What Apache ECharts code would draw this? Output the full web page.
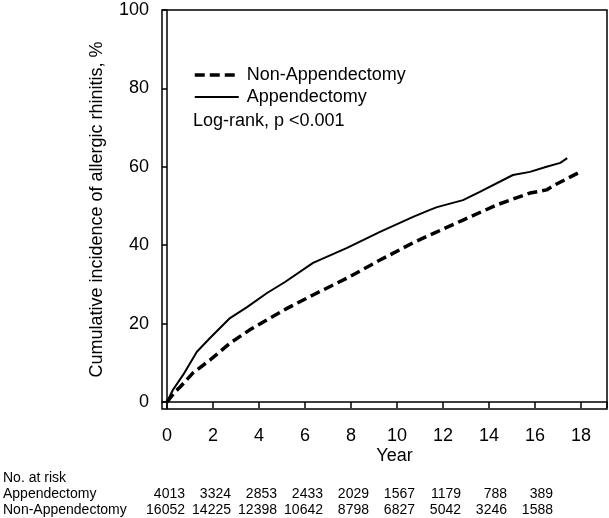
<!DOCTYPE html>
<html>
<head>
<meta charset="utf-8">
<script src="https://cdn.jsdelivr.net/npm/echarts/dist/echarts.min.js"></script>
<style>
  html, body { margin: 0; padding: 0; background: #fff; }
  #chart { width: 609px; height: 518px; }
</style>
</head>
<body>
<div id="chart"></div>
<script>
// curve readings (year, cumulative %)
const apptYears = [0, 0.26, 0.7, 1.3, 1.87, 2.74, 3.48, 4.35, 5.13, 6.35, 7.83, 9.26, 10.7, 11.43, 11.74, 12.87, 13.6, 15.04, 15.78, 16.5, 17.1, 17.4];
const apptValues = [0, 3.1, 6.9, 12.8, 16.3, 21.4, 24.2, 27.8, 30.6, 35.5, 39.3, 43.4, 47.2, 49.0, 49.7, 51.5, 53.6, 57.9, 58.7, 60.0, 61.0, 62.2];
const nonYears = [0, 0.35, 0.57, 1.13, 1.87, 2.74, 3.6, 4.48, 5.26, 6.35, 7.83, 9.26, 10.7, 11.43, 11.74, 12.87, 14.35, 15.78, 16.5, 16.87, 17.87];
const nonValues = [0, 2.6, 3.8, 7.4, 10.7, 15.0, 18.4, 21.4, 24.0, 27.3, 31.6, 36.2, 40.6, 42.6, 43.4, 46.4, 50.3, 53.3, 54.1, 55.4, 58.4];

const xTicks = [0, 2, 4, 6, 8, 10, 12, 14, 16, 18];
const yTicks = [0, 20, 40, 60, 80, 100];

// number at risk table
const riskYears = [0, 2, 4, 6, 8, 10, 12, 14, 16];
const riskAppt = [4013, 3324, 2853, 2433, 2029, 1567, 1179, 788, 389];
const riskNon = [16052, 14225, 12398, 10642, 8798, 6827, 5042, 3246, 1588];

const zip = (xs, ys) => xs.map((x, i) => [x, ys[i]]);

const font = 'Liberation Sans, Arial, sans-serif';
const black = '#000';
const xMin = -0.217;
const xMax = 19.13;

const myChart = echarts.init(document.getElementById('chart'));

const option = {
  animation: false,
  textStyle: { fontFamily: font, color: black },
  grid: {
    left: 162,
    right: 2,
    top: 10,
    bottom: 109,
    show: true,
    borderColor: black,
    borderWidth: 1.5,
    outerBoundsMode: 'none'
  },
  legend: {
    orient: 'vertical',
    left: 193,
    top: 66,
    padding: 0,
    itemWidth: 44,
    itemHeight: 14,
    itemGap: 4,
    textStyle: { fontSize: 18, color: black, fontFamily: font, padding: [0, 0, 0, 3] },
    data: [
      {
        name: 'Non-Appendectomy',
        itemStyle: { opacity: 0 },
        lineStyle: { width: 3.5, type: [10, 5], color: black }
      },
      {
        name: 'Appendectomy',
        itemStyle: { opacity: 0 },
        lineStyle: { width: 2, type: 'solid', color: black }
      }
    ]
  },
  xAxis: {
    type: 'value',
    min: xMin,
    max: xMax,
    name: 'Year',
    nameLocation: 'middle',
    nameGap: 38,
    nameMoveOverlap: false,
    nameTextStyle: { fontSize: 18, color: black, padding: [0, 0, 0, 20] },
    splitLine: { show: false },
    axisLine: { lineStyle: { color: black, width: 1.5 } },
    axisTick: { length: 6, customValues: xTicks.concat([xMax]), lineStyle: { color: black, width: 1.5 } },
    axisLabel: { customValues: xTicks, fontSize: 18, color: black, margin: 18 }
  },
  yAxis: {
    type: 'value',
    min: -1.8,
    max: 100,
    name: 'Cumulative incidence of allergic rhinitis, %',
    nameLocation: 'middle',
    nameGap: 56,
    nameMoveOverlap: false,
    nameTextStyle: { fontSize: 18, color: black },
    splitLine: { show: false },
    axisLine: { lineStyle: { color: black, width: 1.5 } },
    axisTick: { length: 5, customValues: yTicks, lineStyle: { color: black, width: 1.5 } },
    axisLabel: { customValues: yTicks, fontSize: 18, color: black, margin: 13 }
  },
  series: [
    {
      name: 'Non-Appendectomy',
      type: 'line',
      symbol: 'none',
      data: zip(nonYears, nonValues),
      lineStyle: { color: black, width: 3.5, type: [10, 5] },
      itemStyle: { color: black }
    },
    {
      name: 'Appendectomy',
      type: 'line',
      symbol: 'none',
      data: zip(apptYears, apptValues),
      lineStyle: { color: black, width: 2 },
      itemStyle: { color: black }
    }
  ]
};

myChart.setOption(option);

// table below the axis, numbers right-aligned near each year tick
const small = { fontSize: 14, fill: black, fontFamily: font };
const graphic = [
  { type: 'text', left: 3, top: 471, style: Object.assign({ text: 'No. at risk' }, small) },
  { type: 'text', left: 3, top: 487, style: Object.assign({ text: 'Appendectomy' }, small) },
  { type: 'text', left: 3, top: 503, style: Object.assign({ text: 'Non-Appendectomy' }, small) },
  { type: 'text', left: 193, top: 112, style: { text: 'Log-rank, p <0.001', fontSize: 18, fill: black, fontFamily: font } }
];
riskYears.forEach((yr, i) => {
  const x = myChart.convertToPixel({ xAxisIndex: 0 }, yr) + 18;
  graphic.push({ type: 'text', x: x, y: 487, style: Object.assign({ text: String(riskAppt[i]), align: 'right' }, small) });
  graphic.push({ type: 'text', x: x, y: 503, style: Object.assign({ text: String(riskNon[i]), align: 'right' }, small) });
});
myChart.setOption({ graphic: graphic });
</script>
</body>
</html>
